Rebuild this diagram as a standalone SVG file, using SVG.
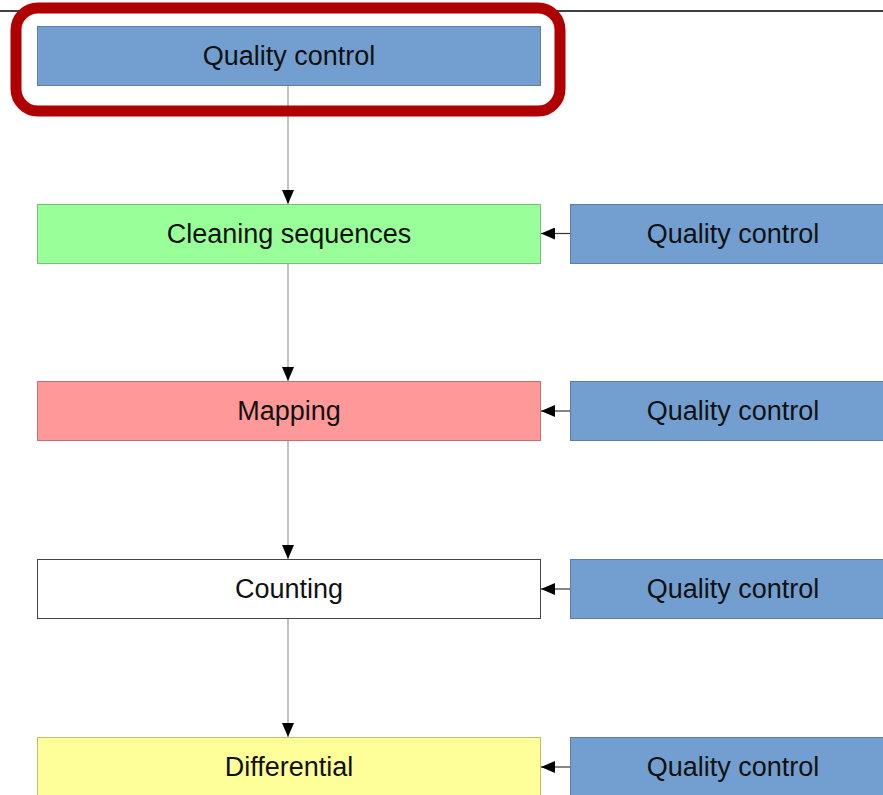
<svg xmlns="http://www.w3.org/2000/svg" width="883" height="795" viewBox="0 0 883 795">
<style>
.box{stroke:#5a7fa8;stroke-width:1}
.qc{fill:#729fcf;stroke:#5a80aa}
.t{font-family:"Liberation Sans",Arial,sans-serif;font-size:27px;fill:#111;text-anchor:middle}
.c{stroke:#999;stroke-width:1.2;fill:none}
.ch{stroke:#333;stroke-width:1.2;fill:none}
</style>
<defs>
<marker id="ah" viewBox="0 0 14 12" refX="14" refY="6" markerWidth="14" markerHeight="12" markerUnits="userSpaceOnUse" orient="auto">
<path d="M0,0 L14,6 L0,12 Z" fill="#000"/>
</marker>
</defs>
<rect width="883" height="795" fill="#fff"/>
<line x1="0" y1="11" x2="883" y2="11" stroke="#000" stroke-width="1.5"/>
<g id="connectors">
<line class="c" x1="288" y1="85" x2="288" y2="204" marker-end="url(#ah)"/>
<line class="c" x1="288" y1="263" x2="288" y2="381" marker-end="url(#ah)"/>
<line class="c" x1="288" y1="441" x2="288" y2="559" marker-end="url(#ah)"/>
<line class="c" x1="288" y1="619" x2="288" y2="737" marker-end="url(#ah)"/>
<line class="ch" x1="570" y1="233.5" x2="541" y2="233.5" marker-end="url(#ah)"/>
<line class="ch" x1="570" y1="411" x2="541" y2="411" marker-end="url(#ah)"/>
<line class="ch" x1="570" y1="589" x2="541" y2="589" marker-end="url(#ah)"/>
<line class="ch" x1="570" y1="767" x2="541" y2="767" marker-end="url(#ah)"/>
</g>
<g id="qc0"><rect class="qc" x="37.5" y="26.5" width="503" height="59"/><text class="t" x="289" y="65">Quality control</text></g>
<g id="clean"><rect x="37.5" y="204.5" width="503" height="59" fill="#99ff99" stroke="#77c077"/><text class="t" x="289" y="243">Cleaning sequences</text></g>
<g id="map"><rect x="37.5" y="381.5" width="503" height="59" fill="#ff9999" stroke="#c07070"/><text class="t" x="289" y="420">Mapping</text></g>
<g id="count"><rect x="37.5" y="559.5" width="503" height="59" fill="#ffffff" stroke="#444"/><text class="t" x="289" y="598">Counting</text></g>
<g id="diff"><rect x="37.5" y="737.5" width="503" height="62" fill="#ffff99" stroke="#c0c070"/><text class="t" x="289" y="776">Differential</text></g>
<g id="qc1"><rect class="qc" x="570.5" y="204.5" width="320" height="59"/><text class="t" x="733" y="243">Quality control</text></g>
<g id="qc2"><rect class="qc" x="570.5" y="381.5" width="320" height="59"/><text class="t" x="733" y="420">Quality control</text></g>
<g id="qc3"><rect class="qc" x="570.5" y="559.5" width="320" height="59"/><text class="t" x="733" y="598">Quality control</text></g>
<g id="qc4"><rect class="qc" x="570.5" y="737.5" width="320" height="62"/><text class="t" x="733" y="776">Quality control</text></g>
<rect id="highlight" x="16" y="8" width="544" height="103" rx="22" fill="none" stroke="#b00000" stroke-width="11"/>
</svg>
